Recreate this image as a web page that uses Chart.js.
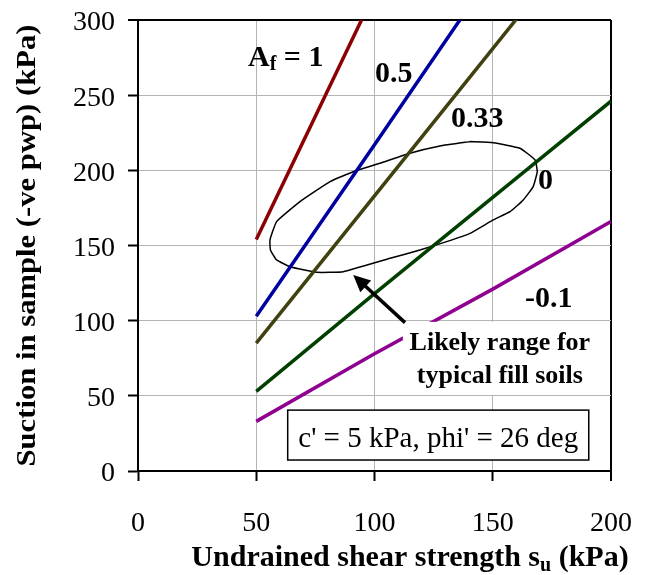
<!DOCTYPE html>
<html>
<head>
<meta charset="utf-8">
<script src="https://cdn.jsdelivr.net/npm/chart.js@4.4.1/dist/chart.umd.min.js"></script>
<style>
  html, body { margin: 0; padding: 0; background: #fff; }
  canvas { display: block; }
</style>
</head>
<body>
<canvas id="chart" width="648" height="575"></canvas>
<script>
// undrained shear strength (kPa) at which the Af lines were plotted
const strength = [50, 100, 150, 200];
// suction in sample (kPa) for each pore pressure parameter Af
const suctionAf1 = [154, 318, null, null];
const suctionAf05 = [103, 217, 332, null];
const suctionAf033 = [85, 183, 281, 379];
const suctionAf0 = [53, 118, 182, 246];
const suctionAfNeg01 = [33, 78, 121, 166];

// outline of the "likely range for typical fill soils" zone
const rangeStrength = [140.4, 150.2, 161.5, 167.9, 168.8, 167.1, 162.9, 157.3, 150.2, 140.4, 130.5, 119.2, 106.6, 86.8, 75.6, 64.3, 58.6, 56, 55.8, 58.6, 68.5, 81.2, 91, 102.3, 115, 127.7, 140.4];
const rangeSuction = [219.1, 218.4, 214.7, 206.9, 199.1, 189.2, 180.3, 172.5, 167, 158.1, 152.6, 147, 141.5, 132.6, 132.2, 135.9, 140.4, 147, 153.7, 165.9, 179.2, 192.5, 199.1, 204.7, 211.4, 216.2, 219.1];

const xTicks = [0, 50, 100, 150, 200];
const yTicks = [0, 50, 100, 150, 200, 250, 300];

const pairs = (xs, ys) => xs.map((v, i) => ({ x: v, y: ys[i] }));

const SERIF = '"Liberation Serif", "Times New Roman", serif';
const GRID = '#b4b4b4';

const lineSet = (data, color) => ({
  data: pairs(strength, data),
  borderColor: color,
  borderWidth: 3.5,
  showLine: true,
  pointRadius: 0,
  tension: 0
});

// draws text pieces one after another, some of them as subscripts
function drawRich(ctx, parts, x, baseline) {
  let cx = x;
  parts.forEach(p => {
    ctx.font = p.font;
    ctx.fillText(p.t, cx, baseline + (p.dy || 0));
    cx += ctx.measureText(p.t).width;
  });
  return cx - x;
}
function richWidth(ctx, parts) {
  let w = 0;
  parts.forEach(p => { ctx.font = p.font; w += ctx.measureText(p.t).width; });
  return w;
}

const annotations = {
  id: 'annotations',
  afterDatasetsDraw(chart) {
    const { ctx, scales: { x, y }, chartArea } = chart;
    const px = v => x.getPixelForValue(v);
    const py = v => y.getPixelForValue(v);
    ctx.save();
    ctx.fillStyle = '#000';
    ctx.textAlign = 'left';
    ctx.textBaseline = 'alphabetic';

    // line labels
    const big = 'bold 30px ' + SERIF;
    drawRich(ctx, [
      { t: 'A', font: big },
      { t: 'f', font: 'bold 20px ' + SERIF, dy: 4 },
      { t: ' = 1', font: big }
    ], px(46.5), py(269.5));
    ctx.font = big;
    ctx.fillText('0.5', px(100.2), py(258.8));
    ctx.fillText('0.33', px(132.3), py(228.9));
    ctx.fillText('0', px(169.1), py(187.6));
    ctx.fillText('-0.1', px(163.6), py(109.1));

    // white box behind the zone note
    ctx.fillStyle = '#fff';
    ctx.fillRect(px(112), py(99.2), px(199.6) - px(112), py(50.6) - py(99.2));
    ctx.fillStyle = '#000';
    ctx.textAlign = 'center';
    ctx.font = 'bold 26px ' + SERIF;
    ctx.fillText('Likely range for', px(153), py(80.5));
    ctx.fillText('typical fill soils', px(153), py(58.5));

    // arrow pointing at the zone
    const tx = px(112.9), ty = py(98.7), hx = px(91), hy = py(130.4);
    const ang = Math.atan2(hy - ty, hx - tx);
    ctx.strokeStyle = '#000';
    ctx.lineWidth = 3.5;
    ctx.beginPath();
    ctx.moveTo(tx, ty);
    ctx.lineTo(hx - 10 * Math.cos(ang), hy - 10 * Math.sin(ang));
    ctx.stroke();
    ctx.beginPath();
    ctx.moveTo(hx, hy);
    ctx.lineTo(hx - 17 * Math.cos(ang) + 8 * Math.sin(ang), hy - 17 * Math.sin(ang) - 8 * Math.cos(ang));
    ctx.lineTo(hx - 17 * Math.cos(ang) - 8 * Math.sin(ang), hy - 17 * Math.sin(ang) + 8 * Math.cos(ang));
    ctx.closePath();
    ctx.fill();

    // parameter box
    const bx0 = px(63.3), bx1 = px(190.6), by0 = py(40.5), by1 = py(7.3);
    ctx.fillStyle = '#fff';
    ctx.fillRect(bx0, by0, bx1 - bx0, by1 - by0);
    ctx.strokeStyle = '#000';
    ctx.lineWidth = 1.5;
    ctx.strokeRect(bx0, by0, bx1 - bx0, by1 - by0);
    ctx.fillStyle = '#000';
    ctx.font = '29px ' + SERIF;
    ctx.fillText("c' = 5 kPa, phi' = 26 deg", (bx0 + bx1) / 2, py(16.2));

    // axis titles
    ctx.textAlign = 'left';
    const xt = [
      { t: 'Undrained shear strength s', font: 'bold 30px ' + SERIF },
      { t: 'u', font: 'bold 20px ' + SERIF, dy: 5 },
      { t: ' (kPa)', font: 'bold 30px ' + SERIF }
    ];
    const w = richWidth(ctx, xt);
    drawRich(ctx, xt, 410 - w / 2, 566);

    ctx.translate(28, (chartArea.top + chartArea.bottom) / 2);
    ctx.rotate(-Math.PI / 2);
    ctx.font = 'bold 28px ' + SERIF;
    const yTitle = 'Suction in sample (-ve pwp) (kPa)';
    ctx.scale(442 / ctx.measureText(yTitle).width, 1);
    ctx.textAlign = 'center';
    ctx.textBaseline = 'middle';
    ctx.fillText(yTitle, 0, 0);
    ctx.restore();
  }
};

new Chart(document.getElementById('chart'), {
  type: 'scatter',
  data: {
    datasets: [
      lineSet(suctionAf1, '#8b0000'),
      lineSet(suctionAf05, '#0000a0'),
      lineSet(suctionAf033, '#404010'),
      lineSet(suctionAf0, '#003f00'),
      lineSet(suctionAfNeg01, '#900090'),
      {
        data: pairs(rangeStrength, rangeSuction),
        borderColor: '#000',
        borderWidth: 1.5,
        showLine: true,
        pointRadius: 0,
        tension: 0.12
      }
    ]
  },
  options: {
    responsive: false,
    animation: false,
    devicePixelRatio: 1,
    layout: { padding: { top: 20, right: 37, left: 0, bottom: 0 } },
    plugins: {
      legend: { display: false },
      tooltip: { enabled: false }
    },
    scales: {
      x: {
        type: 'linear',
        min: 0,
        max: 200,
        afterBuildTicks: s => { s.ticks = xTicks.map(v => ({ value: v })); },
        afterFit: s => { s.height = 104; s.paddingLeft = 0; s.paddingRight = 0; },
        ticks: { font: { family: SERIF, size: 28 }, color: '#000', padding: 26 },
        grid: {
          color: c => c.tick && c.tick.value === 200 ? '#000' : GRID,
          lineWidth: c => c.tick && c.tick.value === 200 ? 2 : 1,
          tickColor: '#000',
          tickWidth: 2,
          tickLength: 10
        },
        border: { color: '#000', width: 2 }
      },
      y: {
        type: 'linear',
        min: 0,
        max: 300,
        afterBuildTicks: s => { s.ticks = yTicks.map(v => ({ value: v })); },
        afterFit: s => { s.width = 138; s.paddingTop = 0; s.paddingBottom = 0; },
        ticks: { font: { family: SERIF, size: 28 }, color: '#000', padding: 13, labelOffset: 3 },
        grid: {
          color: c => c.tick && c.tick.value === 300 ? '#000' : GRID,
          lineWidth: c => c.tick && c.tick.value === 300 ? 2 : 1,
          tickColor: '#000',
          tickWidth: 2,
          tickLength: 10
        },
        border: { color: '#000', width: 2 }
      }
    }
  },
  plugins: [annotations]
});
</script>
</body>
</html>
